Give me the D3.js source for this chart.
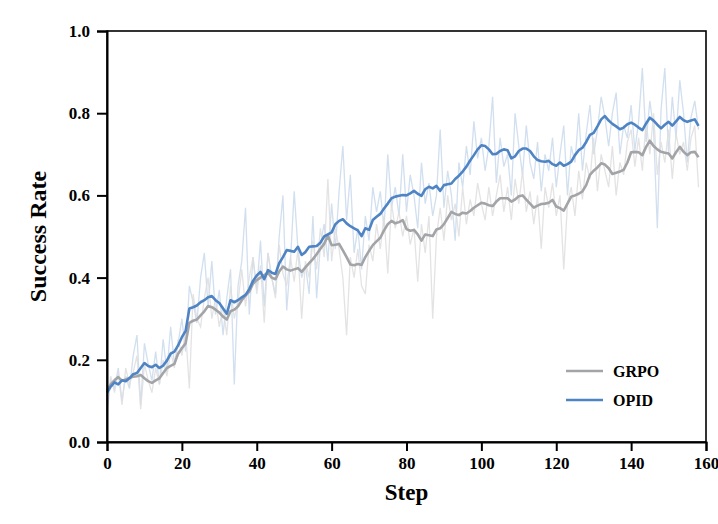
<!DOCTYPE html>
<html>
<head>
<meta charset="utf-8">
<script src="https://cdn.jsdelivr.net/npm/d3@7"></script>
<style>
  body { margin: 0; background: #fff; }
  svg text { font-family: "Liberation Serif", "Times New Roman", serif; font-weight: bold; }
</style>
</head>
<body>
<svg id="chart" width="718" height="524"></svg>
<script>
// smoothed curves, step 0..158
var opidSmooth = [
  0.12,0.135,0.145,0.14,0.15,0.148,0.155,0.165,0.168,0.18,
  0.192,0.185,0.182,0.188,0.18,0.186,0.198,0.215,0.22,0.235,
  0.255,0.27,0.325,0.328,0.332,0.34,0.345,0.352,0.355,0.345,
  0.338,0.325,0.312,0.345,0.34,0.345,0.352,0.358,0.372,0.392,
  0.405,0.414,0.396,0.418,0.412,0.409,0.435,0.45,0.467,0.465,
  0.463,0.475,0.455,0.462,0.475,0.476,0.477,0.485,0.50,0.505,
  0.51,0.53,0.538,0.542,0.532,0.525,0.52,0.515,0.501,0.52,
  0.516,0.54,0.548,0.555,0.568,0.58,0.593,0.597,0.599,0.601,
  0.60,0.605,0.611,0.604,0.599,0.615,0.621,0.617,0.623,0.611,
  0.625,0.627,0.629,0.64,0.648,0.658,0.67,0.685,0.698,0.712,
  0.722,0.72,0.712,0.70,0.701,0.708,0.712,0.71,0.69,0.695,
  0.708,0.714,0.714,0.708,0.695,0.686,0.683,0.682,0.684,0.676,
  0.672,0.68,0.672,0.676,0.682,0.698,0.71,0.716,0.73,0.747,
  0.752,0.768,0.785,0.793,0.782,0.774,0.768,0.761,0.765,0.773,
  0.777,0.772,0.765,0.759,0.775,0.789,0.782,0.772,0.763,0.772,
  0.779,0.77,0.78,0.791,0.783,0.779,0.782,0.785,0.769
];
var grpoSmooth = [
  0.125,0.14,0.15,0.158,0.149,0.152,0.156,0.159,0.16,0.163,
  0.155,0.148,0.144,0.15,0.155,0.168,0.18,0.185,0.19,0.215,
  0.228,0.24,0.29,0.295,0.298,0.308,0.318,0.331,0.328,0.322,
  0.315,0.305,0.298,0.318,0.322,0.33,0.345,0.356,0.366,0.385,
  0.394,0.40,0.406,0.412,0.40,0.396,0.415,0.427,0.42,0.417,
  0.42,0.423,0.414,0.425,0.435,0.445,0.457,0.47,0.482,0.502,
  0.479,0.48,0.482,0.466,0.45,0.432,0.43,0.433,0.431,0.45,
  0.465,0.479,0.488,0.497,0.515,0.53,0.538,0.532,0.535,0.54,
  0.518,0.514,0.516,0.505,0.49,0.505,0.503,0.501,0.517,0.52,
  0.53,0.545,0.56,0.555,0.552,0.558,0.556,0.562,0.57,0.576,
  0.582,0.58,0.576,0.574,0.585,0.593,0.593,0.593,0.585,0.59,
  0.598,0.60,0.59,0.58,0.57,0.575,0.579,0.58,0.582,0.589,
  0.573,0.569,0.563,0.58,0.597,0.60,0.604,0.61,0.625,0.65,
  0.66,0.668,0.678,0.675,0.666,0.652,0.655,0.658,0.662,0.68,
  0.705,0.706,0.705,0.698,0.718,0.733,0.72,0.712,0.706,0.704,
  0.702,0.69,0.705,0.718,0.706,0.698,0.705,0.706,0.693
];
// raw per-step values (faint lines)
var opidRaw = [
  0.07,0.15,0.13,0.18,0.10,0.16,0.13,0.21,0.26,0.09,0.24,0.19,0.15,0.22,0.14,0.25,0.17,0.28,0.19,0.24,
  0.30,0.22,0.38,0.34,0.29,0.40,0.46,0.33,0.44,0.31,0.37,0.26,0.35,0.42,0.14,0.38,0.44,0.57,0.31,0.45,
  0.37,0.49,0.33,0.46,0.40,0.36,0.50,0.60,0.32,0.44,0.61,0.47,0.40,0.43,0.36,0.55,0.35,0.48,0.53,0.44,
  0.58,0.47,0.61,0.72,0.54,0.65,0.46,0.52,0.42,0.55,0.49,0.62,0.56,0.61,0.52,0.70,0.57,0.62,0.55,0.70,
  0.56,0.65,0.60,0.52,0.68,0.58,0.63,0.55,0.60,0.76,0.57,0.66,0.60,0.49,0.68,0.62,0.72,0.65,0.78,0.69,
  0.74,0.66,0.72,0.84,0.63,0.74,0.67,0.70,0.60,0.80,0.72,0.65,0.77,0.68,0.64,0.73,0.61,0.70,0.66,0.74,
  0.62,0.70,0.77,0.60,0.72,0.68,0.80,0.66,0.75,0.82,0.70,0.76,0.84,0.79,0.72,0.80,0.85,0.70,0.77,0.74,
  0.82,0.71,0.78,0.91,0.73,0.83,0.76,0.52,0.81,0.91,0.70,0.84,0.74,0.88,0.80,0.68,0.79,0.83,0.76
];
var grpoRaw = [
  0.10,0.16,0.12,0.17,0.09,0.18,0.14,0.17,0.21,0.08,0.19,0.15,0.12,0.18,0.14,0.20,0.16,0.22,0.18,0.25,
  0.21,0.27,0.13,0.36,0.30,0.28,0.35,0.40,0.30,0.35,0.28,0.33,0.26,0.38,0.30,0.34,0.42,0.33,0.40,0.45,
  0.36,0.43,0.29,0.46,0.40,0.35,0.48,0.41,0.38,0.45,0.39,0.47,0.30,0.44,0.40,0.49,0.42,0.52,0.45,0.64,
  0.44,0.52,0.47,0.40,0.26,0.45,0.40,0.47,0.38,0.36,0.48,0.44,0.53,0.47,0.55,0.41,0.58,0.52,0.56,0.50,
  0.55,0.48,0.52,0.39,0.53,0.46,0.55,0.30,0.50,0.57,0.49,0.60,0.54,0.58,0.50,0.62,0.53,0.59,0.55,0.63,
  0.58,0.54,0.62,0.55,0.60,0.65,0.56,0.62,0.54,0.64,0.58,0.66,0.56,0.61,0.53,0.60,0.47,0.62,0.57,0.63,
  0.55,0.60,0.42,0.58,0.62,0.55,0.66,0.59,0.68,0.64,0.74,0.61,0.70,0.66,0.62,0.72,0.60,0.68,0.65,0.73,
  0.76,0.67,0.74,0.66,0.78,0.70,0.80,0.65,0.73,0.68,0.76,0.64,0.75,0.70,0.73,0.66,0.74,0.77,0.62
];
var xTicks = [0,20,40,60,80,100,120,140,160];
var yTicks = [0,0.2,0.4,0.6,0.8,1.0];
var seriesNames = ["GRPO","OPID"];
var seriesColors = ["#a3a4a8","#4f84c4"];

var margin = {top: 31, right: 12, bottom: 82, left: 107};
var width = 718, height = 524;

var svg = d3.select("#chart");

var x = d3.scaleLinear().domain([0,160]).range([margin.left, width - margin.right]);
var y = d3.scaleLinear().domain([0,1]).range([height - margin.bottom, margin.top]);

var line = function(arr){
  return d3.line()
    .x(function(d,i){ return x(i); })
    .y(function(d){ return y(d); })(arr);
};

// faint raw lines
svg.append("path").attr("d", line(opidRaw))
  .attr("fill","none").attr("stroke","#c9d9ec").attr("stroke-width",1.3).attr("opacity",0.85);
svg.append("path").attr("d", line(grpoRaw))
  .attr("fill","none").attr("stroke","#dedede").attr("stroke-width",1.3).attr("opacity",0.85);

// smoothed
svg.append("path").attr("d", line(grpoSmooth))
  .attr("fill","none").attr("stroke",seriesColors[0]).attr("stroke-width",2.6).attr("stroke-linejoin","round");
svg.append("path").attr("d", line(opidSmooth))
  .attr("fill","none").attr("stroke",seriesColors[1]).attr("stroke-width",2.6).attr("stroke-linejoin","round");

// frame
svg.append("rect")
  .attr("x", x(0)).attr("y", y(1))
  .attr("width", x(160)-x(0)).attr("height", y(0)-y(1))
  .attr("fill","none").attr("stroke","#000").attr("stroke-width",1.6);

var xAxis = d3.axisBottom(x).tickValues(xTicks).tickFormat(d3.format("d")).tickSize(9).tickPadding(6);
var yAxis = d3.axisLeft(y).tickValues(yTicks).tickFormat(d3.format(".1f")).tickSize(10).tickPadding(7);

function styleAxis(g){
  g.selectAll("path, line").attr("stroke","#000").attr("stroke-width",2);
  g.selectAll("text").attr("fill","#000").style("font-size","17px");
}

svg.append("g").attr("transform","translate(0,"+y(0)+")").call(xAxis).call(styleAxis);
svg.append("g").attr("transform","translate("+x(0)+",0)").call(yAxis).call(styleAxis);

svg.append("text")
  .attr("x", (x(0)+x(160))/2).attr("y", 500)
  .attr("text-anchor","middle").style("font-size","23px")
  .text("Step");

svg.append("text")
  .attr("transform","translate(46,"+((y(0)+y(1))/2)+") rotate(-90)")
  .attr("text-anchor","middle").style("font-size","24px")
  .text("Success Rate");

// legend
var legend = svg.append("g");
seriesNames.forEach(function(name,i){
  var ly = 371 + i*29;
  legend.append("line")
    .attr("x1",566).attr("x2",603).attr("y1",ly).attr("y2",ly)
    .attr("stroke",seriesColors[i]).attr("stroke-width",2.6);
  legend.append("text")
    .attr("x",613).attr("y",ly+6)
    .style("font-size","16px")
    .text(name);
});
</script>
</body>
</html>
